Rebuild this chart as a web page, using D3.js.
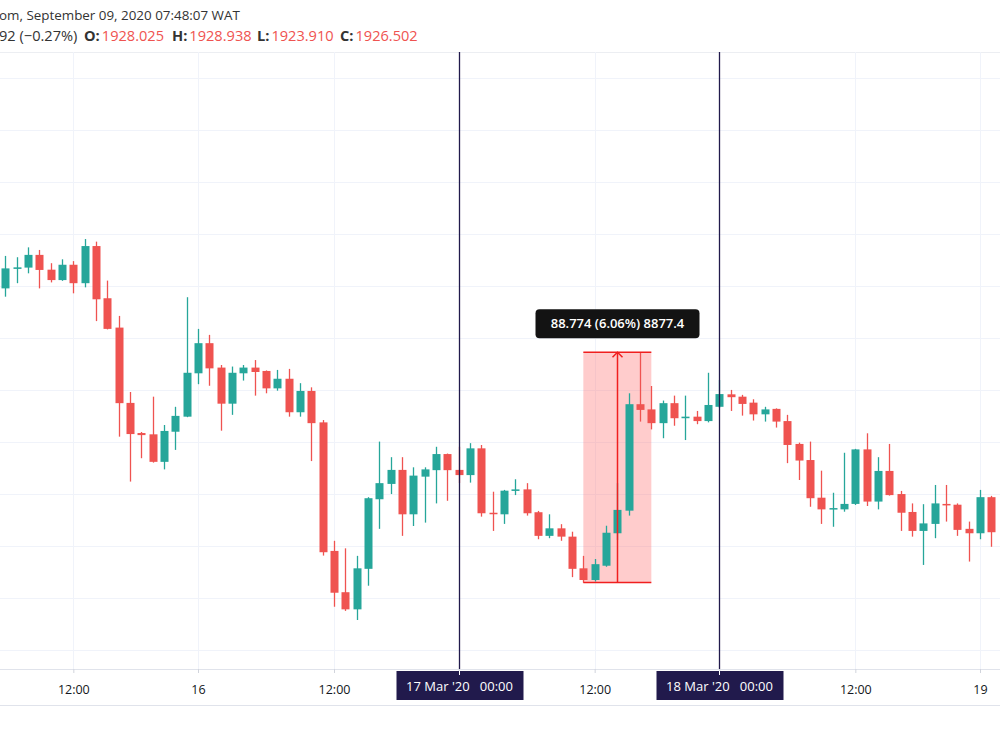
<!DOCTYPE html>
<html>
<head>
<meta charset="utf-8">
<script src="https://cdn.jsdelivr.net/npm/d3@7"></script>
<style>
  body { margin: 0; background: #fff; }
  svg { display: block; font-family: "Open Sans", "Noto Sans", sans-serif; }
</style>
</head>
<body>
<div id="chart"></div>
<script>
// hourly candles, XAUUSD 15-19 Mar 2020
const open  = [1579.1,1586.6,1587.1,1592.0,1586.3,1582.3,1588.2,1581.1,1595.4,1575.3,
               1564.0,1535.0,1523.4,1522.9,1512.3,1523.9,1529.7,1546.4,1558.0,1548.6,
               1534.7,1546.4,1548.6,1547.3,1540.6,1544.3,1531.4,1539.6,1527.5,1478.0,
               1462.1,1455.5,1471.1,1497.9,1503.8,1509.2,1492.1,1506.6,1509.1,1515.3,
               1509.2,1507.2,1517.5,1492.7,1492.1,1501.1,1501.7,1492.9,1483.8,1486.7,
               1483.5,1471.3,1466.8,1472.3,1484.8,1493.5,1534.5,1532.5,1527.2,1534.9,
               1529.1,1529.7,1528.0,1533.5,1538.3,1537.4,1535.1,1530.6,1532.7,1528.0,
               1519.2,1513.0,1498.5,1494.0,1494.0,1496.1,1517.1,1497.0,1508.8,1499.9,
               1493.0,1485.7,1488.4,1496.1,1495.8,1486.5,1484.8,1498.7];
const high  = [1591.6,1591.1,1594.9,1593.9,1588.8,1590.3,1589.6,1598.1,1597.1,1582.1,
               1568.5,1539.2,1523.8,1537.4,1526.5,1533.5,1575.7,1563.5,1561.2,1549.6,
               1549.0,1549.6,1551.5,1547.5,1547.7,1548.1,1542.6,1541.0,1528.4,1481.9,
               1479.0,1476.1,1498.7,1520.1,1514.1,1514.1,1510.2,1510.2,1518.1,1515.5,
               1518.1,1519.5,1518.8,1500.8,1501.5,1505.6,1504.1,1493.4,1492.1,1488.3,
               1485.4,1476.1,1474.9,1487.7,1504.1,1538.7,1554.5,1541.5,1535.9,1537.8,
               1537.8,1531.9,1546.6,1543.8,1540.0,1538.1,1536.4,1533.5,1532.9,1530.4,
               1519.7,1520.1,1508.9,1500.4,1515.8,1517.3,1523.3,1514.1,1519.2,1501.1,
               1496.3,1496.0,1503.4,1503.4,1496.3,1489.3,1501.5,1499.2];
const low   = [1575.9,1581.1,1584.9,1579.1,1581.4,1582.0,1577.2,1579.5,1566.5,1563.3,
               1522.0,1504.7,1513.7,1512.0,1509.4,1516.9,1529.5,1542.2,1541.6,1524.3,
               1530.4,1543.6,1537.8,1538.7,1539.7,1529.7,1529.7,1512.6,1476.2,1456.5,
               1454.9,1451.4,1464.6,1486.5,1499.9,1483.8,1487.6,1488.9,1496.3,1497.3,
               1504.1,1504.3,1491.2,1485.7,1488.4,1499.5,1491.6,1482.5,1482.9,1481.9,
               1467.9,1465.8,1466.2,1471.9,1482.2,1491.6,1527.8,1524.8,1521.4,1526.2,
               1520.7,1526.8,1527.5,1533.0,1531.9,1530.1,1528.2,1527.8,1525.5,1511.8,
               1505.3,1495.0,1488.4,1487.3,1493.1,1495.7,1495.3,1494.0,1499.3,1485.7,
               1483.5,1472.6,1482.9,1489.3,1483.8,1473.9,1482.5,1479.6];
const close = [1586.8,1587.2,1592.0,1586.2,1582.3,1588.2,1581.1,1595.4,1574.9,1563.5,
               1534.9,1523.0,1522.6,1512.3,1524.2,1530.0,1546.6,1558.0,1548.3,1534.7,
               1546.6,1548.6,1546.9,1540.6,1544.3,1531.4,1539.6,1527.2,1477.5,1461.9,
               1455.5,1471.3,1498.3,1504.1,1509.2,1492.1,1507.0,1509.4,1515.3,1509.1,
               1507.2,1517.5,1492.5,1492.2,1501.2,1501.7,1492.5,1483.8,1486.7,1483.5,
               1471.1,1466.8,1472.9,1485.0,1493.8,1534.5,1532.3,1527.2,1534.9,1529.1,
               1529.7,1528.0,1534.2,1538.4,1537.2,1534.6,1530.6,1532.5,1527.8,1518.8,
               1512.8,1498.3,1494.0,1494.5,1496.1,1517.1,1497.0,1508.8,1499.5,1492.7,
               1485.7,1488.6,1496.3,1495.6,1486.1,1484.8,1498.7,1485.2];

// time axis: candle index of each label
const tickIdx    = [6, 17, 29, 40, 52, 63, 75, 86];
const tickLabels = ["12:00", "16", "12:00", "17 Mar '20   00:00", "12:00", "18 Mar '20   00:00", "12:00", "19"];
const markedIdx  = [40, 63];           // vertical lines with a date badge
const priceGrid  = d3.range(1440, 1661, 20);

// legend of the hovered bar
const legendKeys   = ["O:", "H:", "L:", "C:"];
const legendValues = ["1928.025", "1928.938", "1923.910", "1926.502"];

// measure tool: from low of candle 51 to high of candle 56
const measureFrom = 51, measureTo = 57, measureMid = 54;
const measureLow = 1465.8, measureHigh = 1554.5;
const measureText = "88.774 (6.06%) 8877.4";

const UP = "#26a69a", DOWN = "#ef5350";
const W = 1000, H = 750;
const plotTop = 52, plotBottom = 669;

const svg = d3.select("#chart").append("svg")
  .attr("width", W).attr("height", H);

const x = d3.scaleLinear().domain([0, 86]).range([5.33, 980]);
const y = d3.scaleLinear().domain([1440, 1660]).range([649.6, 78.3]);

// header legend
const head = svg.append("g").attr("fill", "#333");
head.append("text").attr("x", -1).attr("y", 20).attr("font-size", 13.4)
  .text("om, September 09, 2020 07:48:07 WAT");
const l2 = head.append("text").attr("y", 41).attr("font-size", 14.6);
l2.append("tspan").attr("x", -1).text("92 (\u22120.27%)");
const keyX = [84, 172, 257, 340];
legendKeys.forEach((k, i) => {
  l2.append("tspan").attr("x", keyX[i]).attr("font-weight", "bold").attr("fill", "#333").text(k);
  l2.append("tspan").attr("dx", 2).attr("fill", DOWN).text(legendValues[i]);
});

svg.append("line").attr("x1", 0).attr("x2", W).attr("y1", plotTop + 0.5).attr("y2", plotTop + 0.5)
  .attr("stroke", "#eceef2");

// grid
const grid = svg.append("g").attr("stroke", "#f0f3fa").attr("stroke-width", 1);
grid.selectAll(".hg").data(priceGrid).enter().append("line")
  .attr("x1", 0).attr("x2", W)
  .attr("y1", d => Math.round(y(d)) + 0.5).attr("y2", d => Math.round(y(d)) + 0.5);
grid.selectAll(".vg").data(tickIdx).enter().append("line")
  .attr("y1", plotTop).attr("y2", plotBottom)
  .attr("x1", d => Math.round(x(d)) + 0.5).attr("x2", d => Math.round(x(d)) + 0.5);

// measure box behind candles
svg.append("rect")
  .attr("x", x(measureFrom)).attr("width", x(measureTo) - x(measureFrom))
  .attr("y", y(measureHigh)).attr("height", y(measureLow) - y(measureHigh))
  .attr("fill", "rgba(255,110,110,0.35)");

// candles
const candles = open.map((o, i) => ({ i, o, h: high[i], l: low[i], c: close[i] }));
const bw = 8;
const cg = svg.append("g");
cg.selectAll(".wick").data(candles).enter().append("line")
  .attr("x1", d => Math.round(x(d.i)) + 0.5).attr("x2", d => Math.round(x(d.i)) + 0.5)
  .attr("y1", d => y(d.h)).attr("y2", d => y(d.l))
  .attr("stroke", d => d.c >= d.o ? UP : DOWN).attr("stroke-width", 1.3);
cg.selectAll(".body").data(candles).enter().append("rect")
  .attr("x", d => Math.round(x(d.i)) + 0.5 - bw / 2).attr("width", bw)
  .attr("y", d => y(Math.max(d.o, d.c)))
  .attr("height", d => Math.max(1.5, Math.abs(y(d.o) - y(d.c))))
  .attr("fill", d => d.c >= d.o ? UP : DOWN);

// measure lines
const red = "#f01f1f";
const mg = svg.append("g").attr("stroke", red).attr("stroke-width", 1.5).attr("fill", "none");
[measureHigh, measureLow].forEach(v => mg.append("line")
  .attr("x1", x(measureFrom)).attr("x2", x(measureTo)).attr("y1", y(v)).attr("y2", y(v)));
const mx = Math.round(x(measureMid)) + 0.5;
mg.append("line").attr("x1", mx).attr("x2", mx).attr("y1", y(measureHigh)).attr("y2", y(measureLow));
mg.append("path").attr("d", `M${mx - 5},${y(measureHigh) + 5}L${mx},${y(measureHigh)}L${mx + 5},${y(measureHigh) + 5}`);

// label of measure
const tipW = 164, tipH = 29;
svg.append("rect").attr("x", mx - tipW / 2).attr("y", y(measureHigh) - 43)
  .attr("width", tipW).attr("height", tipH).attr("rx", 4).attr("fill", "#131313");
svg.append("text").attr("x", mx).attr("y", y(measureHigh) - 24)
  .attr("text-anchor", "middle").attr("fill", "#fff").attr("font-size", 13).attr("font-weight", 600)
  .text(measureText);

// vertical marker lines
const NAVY = "#211a4c";
svg.selectAll(".vm").data(markedIdx).enter().append("line")
  .attr("x1", d => Math.round(x(d)) + 0.5).attr("x2", d => Math.round(x(d)) + 0.5)
  .attr("y1", plotTop).attr("y2", plotBottom)
  .attr("stroke", NAVY).attr("stroke-width", 1.3);

// time axis
svg.append("line").attr("x1", 0).attr("x2", W).attr("y1", plotBottom + 0.5).attr("y2", plotBottom + 0.5)
  .attr("stroke", "#e0e3eb");
svg.append("line").attr("x1", 0).attr("x2", W).attr("y1", 705.5).attr("y2", 705.5)
  .attr("stroke", "#e0e3eb");

const xAxis = d3.axisBottom(x).tickValues(tickIdx)
  .tickFormat((d, k) => markedIdx.includes(d) ? "" : tickLabels[k])
  .tickSize(4).tickPadding(12);
const ax = svg.append("g").attr("transform", `translate(0,${plotBottom})`).call(xAxis);
ax.select(".domain").remove();
ax.selectAll(".tick line").attr("stroke", "#d1d4dc");
ax.selectAll(".tick text").attr("fill", "#131722").attr("font-size", 12.5)
  .attr("font-family", "'Open Sans', sans-serif");

// date badges
markedIdx.forEach(d => {
  const k = tickIdx.indexOf(d);
  const cx = Math.round(x(d)) + 0.5;
  svg.append("rect").attr("x", cx - 63).attr("y", 671).attr("width", 127).attr("height", 29)
    .attr("fill", NAVY);
  svg.append("line").attr("x1", cx).attr("x2", cx).attr("y1", 671).attr("y2", 675)
    .attr("stroke", "#fff");
  svg.append("text").attr("x", cx).attr("y", 691).attr("text-anchor", "middle")
    .attr("fill", "#fff").attr("font-size", 13).attr("xml:space", "preserve")
    .style("white-space", "pre").text(tickLabels[k]);
});
</script>
</body>
</html>
